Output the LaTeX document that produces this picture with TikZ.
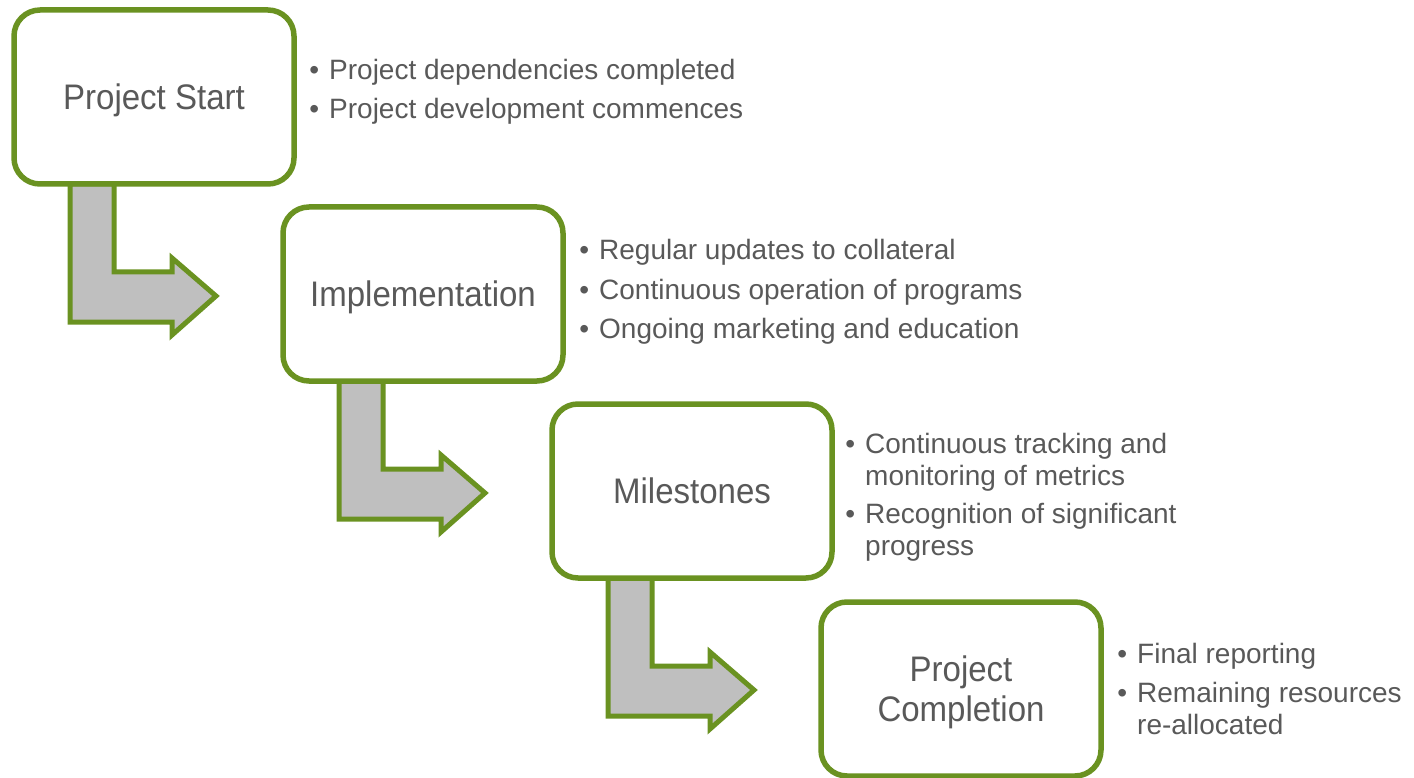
\documentclass[tikz,border=0pt]{standalone}
\usepackage{fontspec}
\setmainfont{Liberation Sans}
\newfontfamily\stagefont[FakeStretch=0.93]{Liberation Sans}
\usepackage{tikz}
\usetikzlibrary{calc}
\definecolor{stagegreen}{RGB}{106,146,33}
\definecolor{arrowgray}{RGB}{191,191,191}
\definecolor{textgray}{RGB}{89,89,89}
\newcommand{\bul}{\llap{\textbullet\hspace{10pt}}}

\begin{document}
\begin{tikzpicture}[x=1pt,y=-1pt]
\useasboundingbox (0,0) rectangle (1414,778);
\tikzset{
    stage/.style={draw=stagegreen,line width=5.5pt,fill=white,rounded corners=26pt,
                  minimum width=280pt,minimum height=174pt,outer sep=0pt,inner sep=0pt,
                  text depth=0pt,align=center,text=textgray,
                  font=\stagefont\fontsize{35.5}{40}\selectfont},
    bentarrow/.style={draw=stagegreen,line width=5pt,fill=arrowgray,line join=miter},
    item/.style={anchor=base west,inner sep=0pt,text=textgray,font=\fontsize{28}{32}\selectfont}
}

% bent arrows (drawn first, boxes sit on top)
\coordinate (a1) at (70,184);
\coordinate (a2) at (339,381);
\coordinate (a3) at (608,578);
\draw[bentarrow] (a1) -- ++(44,0) -- ++(0,88) -- ++(58,0) -- ++(0,-14) -- ++(44,38)
    -- ++(-44,39) -- ++(0,-13) -- ++(-102,0) -- cycle;
\draw[bentarrow] (a2) -- ++(44,0) -- ++(0,88) -- ++(58,0) -- ++(0,-14) -- ++(44,38)
    -- ++(-44,39) -- ++(0,-13) -- ++(-102,0) -- cycle;
\draw[bentarrow] (a3) -- ++(44,0) -- ++(0,88) -- ++(58,0) -- ++(0,-14) -- ++(44,38)
    -- ++(-44,39) -- ++(0,-13) -- ++(-102,0) -- cycle;

% stages
\node[stage] (start) at (154,97) {Project Start};
\node[stage] (impl) at (423,294) {Implementation};
\node[stage] (miles) at (692,491) {Milestones};
\node[stage] (compl) at (961,689) {Project\\Completion};

% bullet notes
\node[item] (s1) at (329,80) {\bul Project dependencies completed};
\node[item] (s2) at (329,119) {\bul Project development commences};

\node[item] (i1) at (599,260) {\bul Regular updates to collateral};
\node[item] (i2) at (599,299) {\bul Continuous operation of programs};
\node[item] (i3) at (599,338) {\bul Ongoing marketing and education};

\node[item] (m1) at (865,453) {\bul Continuous tracking and};
\node[item] (m2) at (865,485) {monitoring of metrics};
\node[item] (m3) at (865,523) {\bul Recognition of significant};
\node[item] (m4) at (865,555) {progress};

\node[item] (c1) at (1137,663) {\bul Final reporting};
\node[item] (c2) at (1137,702) {\bul Remaining resources};
\node[item] (c3) at (1137,734) {re-allocated};
\end{tikzpicture}
\end{document}
